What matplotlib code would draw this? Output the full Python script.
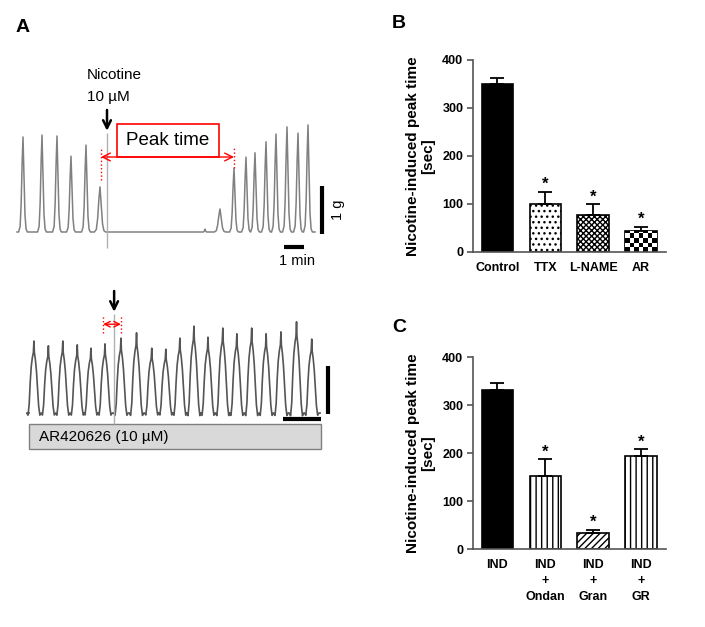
import matplotlib
matplotlib.use("Agg")
import matplotlib.pyplot as plt
from matplotlib.patches import Rectangle
import numpy as np

plt.rcParams['font.family'] = ['Liberation Sans', 'DejaVu Sans']

# ---- panel A, top trace (time in min, force in g) ----
top_peak_t = [0.30, 1.25, 2.00, 2.70, 3.45, 4.15, 9.40, 10.15, 10.85, 11.45, 11.90,
              12.45, 12.95, 13.50, 14.05, 14.55]
top_peak_g = [1.98, 2.02, 2.00, 1.58, 1.81, 0.94, 0.06, 0.48, 1.33, 1.56, 1.65,
              1.88, 2.04, 2.19, 2.06, 2.23]
top_peak_w = [0.22, 0.22, 0.22, 0.22, 0.22, 0.28, 0.10, 0.28, 0.22, 0.22, 0.22,
              0.22, 0.22, 0.22, 0.22, 0.22]
top_span = (0.0, 14.9)
nicotine_t = 4.5
peak_time_start, peak_time_end = 4.2, 10.85

# ---- panel A, bottom trace (with AR420626) ----
bot_peak_t = [0.13, 0.51, 0.89, 1.27, 1.63, 2.00, 2.42, 2.83, 3.23, 3.60,
              3.97, 4.34, 4.71, 5.10, 5.47, 5.86, 6.24, 6.63, 7.04, 7.44]
bot_peak_g = [1.50, 1.40, 1.50, 1.42, 1.35, 1.44, 1.56, 1.67, 1.35, 1.33,
              1.56, 1.81, 1.58, 1.77, 1.65, 1.77, 1.65, 1.69, 1.90, 1.54]
bot_span = (0.0, 7.66)
bot_nicotine_t = 2.24
bot_peak_start, bot_peak_end = 1.95, 2.42

# ---- panels B and C ----
b_labels = ['Control', 'TTX', 'L-NAME', 'AR']
b_means = [350, 101, 77, 44]
b_errs = [13, 24, 22, 9]
b_sig = [False, True, True, True]

c_labels = ['IND', 'IND\n+\nOndan', 'IND\n+\nGran', 'IND\n+\nGR']
c_means = [331, 153, 33, 193]
c_errs = [15, 34, 7, 15]
c_sig = [False, True, True, True]

# pulse shapes (relative time, relative amplitude)
SHAPE_TOP = [(-1, 0), (-0.65, 0.06), (-0.42, 0.3), (-0.2, 0.72), (-0.05, 0.92), (0, 1),
             (0.08, 0.85), (0.25, 0.5), (0.45, 0.18), (0.7, 0.03), (1, 0)]
SHAPE_BOT = [(-1, 0), (-0.82, -0.03), (-0.66, 0.12), (-0.52, 0.42), (-0.38, 0.64),
             (-0.22, 0.77), (-0.08, 0.84), (0, 1), (0.06, 0.84), (0.2, 0.74),
             (0.35, 0.58), (0.5, 0.34), (0.65, 0.1), (0.82, -0.03), (1, 0)]


def build_trace(span, times, amps, widths, shape):
    ts, ys = [span[0]], [0.0]
    for t, a, w in zip(times, amps, widths):
        for dx, fy in shape:
            ts.append(t + dx * w)
            ys.append(fy * a)
    ts.append(span[1])
    ys.append(0.0)
    return ts, ys


W, H = 705, 627
fig = plt.figure(figsize=(W / 100, H / 100), dpi=100)


def px_axes(x0, y0, x1, y1):
    return fig.add_axes([x0 / W, 1 - y1 / H, (x1 - x0) / W, (y1 - y0) / H])


# ---------- top trace ----------
ax1 = px_axes(10, 60, 350, 265)
ax1.set_xlim(-0.35, 16.65)
ax1.set_ylim(-0.6875, 3.583)
ax1.axis('off')
t, y = build_trace(top_span, top_peak_t, top_peak_g, top_peak_w, SHAPE_TOP)
ax1.plot(t, y, color='#808080', lw=1.1)
ax1.vlines(nicotine_t, -0.33, 2.06, color='#b0b0b0', lw=1)
ax1.annotate('', xy=(nicotine_t, 2.05), xytext=(nicotine_t, 2.6),
             arrowprops=dict(arrowstyle='->', lw=1.8, color='black', mutation_scale=14))
ax1.text(3.5, 3.27, 'Nicotine', fontsize=11, va='center', ha='left')
ax1.text(3.5, 2.81, '10 µM', fontsize=11, va='center', ha='left')
ax1.add_patch(Rectangle((5.0, 1.5625), 5.1, 0.6875, facecolor='white',
                        edgecolor='red', lw=1.2, zorder=3))
ax1.text(7.55, 1.91, 'Peak time', fontsize=13.5, ha='center', va='center', zorder=4)
ax1.annotate('', xy=(peak_time_start, 1.5625), xytext=(peak_time_end, 1.5625),
             arrowprops=dict(arrowstyle='<->', lw=1.0, color='red', mutation_scale=14,
                             shrinkA=0, shrinkB=0))
ax1.vlines(peak_time_start, 1.08, 1.77, color='red', lw=1, linestyle=':')
ax1.vlines(peak_time_end, 1.33, 1.77, color='red', lw=1, linestyle=':')
# scale bars
ax1.vlines(15.25, -0.04, 0.96, color='black', lw=3)
ax1.text(16.05, 0.46, '1 g', rotation=90, fontsize=10.5, ha='center', va='center')
ax1.hlines(-0.31, 13.35, 14.35, color='black', lw=3)
ax1.text(14.0, -0.6, '1 min', fontsize=10.5, ha='center', va='center')

# ---------- bottom trace ----------
ax2 = px_axes(10, 280, 350, 460)
ax2.set_xlim(-0.5, 8.447)
ax2.set_ylim(-0.979, 2.771)
ax2.axis('off')
t, y = build_trace(bot_span, bot_peak_t, bot_peak_g, [0.19] * len(bot_peak_t), SHAPE_BOT)
ax2.plot(t, y, color='#555555', lw=1.2)
ax2.vlines(bot_nicotine_t, -0.23, 2.06, color='#b0b0b0', lw=1)
ax2.annotate('', xy=(bot_nicotine_t, 2.05), xytext=(bot_nicotine_t, 2.6),
             arrowprops=dict(arrowstyle='->', lw=1.8, color='black', mutation_scale=14))
ax2.annotate('', xy=(bot_peak_start, 1.85), xytext=(bot_peak_end, 1.85),
             arrowprops=dict(arrowstyle='<->', lw=1.0, color='red', mutation_scale=10,
                             shrinkA=0, shrinkB=0))
ax2.vlines([bot_peak_start, bot_peak_end], 1.67, 2.02, color='red', lw=1, linestyle=':')
ax2.vlines(7.87, -0.02, 0.98, color='black', lw=3)
ax2.hlines(-0.125, 6.68, 7.68, color='black', lw=3)
ax2.add_patch(Rectangle((0, -0.75), 7.68, 0.52, facecolor='#d9d9d9',
                        edgecolor='#808080', lw=1))
ax2.text(0.27, -0.49, 'AR420626 (10 µM)', fontsize=11, va='center', ha='left')


# ---------- bar panels ----------
def bar_panel(y_top, labels, means, errs, sig, hatches, faces):
    ax = px_axes(473, y_top, 666, y_top + 192)
    x = np.arange(len(labels))
    bars = ax.bar(x, means, width=0.66, color=faces, edgecolor='black', lw=1.2,
                  hatch=None, zorder=2)
    for b, h in zip(bars, hatches):
        if h and h != 'checker':
            b.set_hatch(h)
    ax.errorbar(x, means, yerr=[np.zeros(len(means)), errs], fmt='none',
                ecolor='black', elinewidth=1.3, capsize=5, capthick=1.3, zorder=3)
    for xi, m, e, s in zip(x, means, errs, sig):
        if s:
            ax.annotate('*', (xi, m + e), xytext=(0, 2), textcoords='offset points',
                        ha='center', va='baseline', fontsize=12, fontweight='bold')
    ax.set_xlim(-0.51, 3.52)
    ax.set_ylim(0, 400)
    ax.set_yticks([0, 100, 200, 300, 400])
    ax.set_xticks(x)
    ax.set_xticklabels(labels, fontsize=9, fontweight='bold', linespacing=1.45)
    for lab in ax.get_yticklabels():
        lab.set_fontweight('bold')
        lab.set_fontsize(9)
    ax.tick_params(axis='x', length=0, pad=7)
    ax.tick_params(axis='y', length=4, width=1.2, color='#555555', pad=3)
    ax.spines['top'].set_visible(False)
    ax.spines['right'].set_visible(False)
    for sp in ('left', 'bottom'):
        ax.spines[sp].set_linewidth(1.2)
        ax.spines[sp].set_color('#555555')
    ax.set_ylabel('Nicotine-induced peak time\n[sec]', fontsize=11, fontweight='bold',
                  labelpad=5, linespacing=1.1)
    # checkerboard fill
    for b, h in zip(bars, hatches):
        if h == 'checker':
            bx, bw, bh = b.get_x(), b.get_width(), b.get_height()
            p0 = ax.transData.transform((bx, 0))
            p1 = ax.transData.transform((bx + bw, bh))
            ncol = 7
            sq = (p1[0] - p0[0]) / ncol
            nrow = max(1, int(round((p1[1] - p0[1]) / sq)))
            board = (np.add.outer(np.arange(nrow), np.arange(ncol)) % 2).astype(float)
            im = ax.imshow(board, cmap='gray', extent=[bx, bx + bw, 0, nrow * sq * bh / (p1[1] - p0[1])],
                           origin='lower', interpolation='nearest', aspect='auto', zorder=2)
            im.set_clip_path(b)
            ax.set_xlim(-0.51, 3.52)
            ax.set_ylim(0, 400)
    return ax


bar_panel(60, b_labels, b_means, b_errs, b_sig,
          [None, '...', 'xxxxxx', 'checker'], ['black', 'white', 'white', 'white'])
bar_panel(357, c_labels, c_means, c_errs, c_sig,
          [None, '|||', '/////', '|||'], ['black', 'white', 'white', 'white'])

fig.text(16 / W, 1 - 27 / H, 'A', fontsize=14, fontweight='bold', va='center')
fig.text(392 / W, 1 - 24 / H, 'B', fontsize=14, fontweight='bold', va='center')
fig.text(392 / W, 1 - 328 / H, 'C', fontsize=14, fontweight='bold', va='center')

fig.savefig('out.png', dpi=100)
